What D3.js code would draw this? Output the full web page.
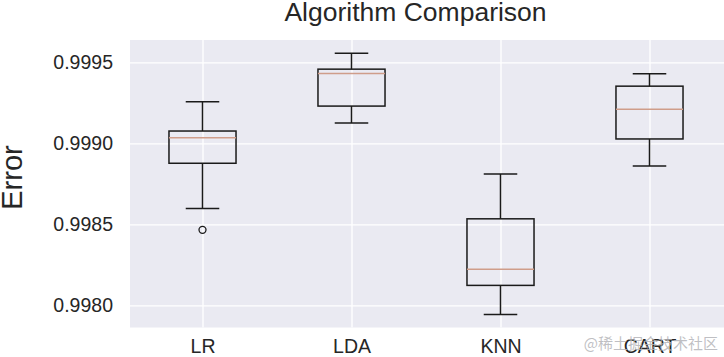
<!DOCTYPE html>
<html>
<head>
<meta charset="utf-8">
<script src="https://cdn.jsdelivr.net/npm/d3@7"></script>
<style>
  html, body { margin: 0; padding: 0; background: #ffffff; }
  svg { display: block; }
  text { font-family: "Liberation Sans", Arial, sans-serif; }
</style>
</head>
<body>
<div id="chart"></div>
<script>
// ---- data ----
const categories  = ["LR", "LDA", "KNN", "CART"];
const whiskerLow  = [0.998597, 0.999125, 0.997943, 0.998860];
const q1          = [0.998877, 0.999230, 0.998123, 0.999027];
const medians     = [0.999034, 0.999431, 0.998223, 0.999211];
const q3          = [0.999076, 0.999458, 0.998534, 0.999353];
const whiskerHigh = [0.999256, 0.999556, 0.998811, 0.999429];
const outliers    = [[0.998466], [], [], []];
const yTicks      = [0.9980, 0.9985, 0.9990, 0.9995];
const titleText   = "Algorithm Comparison";
const yLabel      = "Error";
const watermark   = "@稀土掘金技术社区";

// ---- layout ----
const W = 724, H = 357;
const plot = { left: 130, right: 724, top: 40, bottom: 327.5 };

const svg = d3.select("#chart").append("svg")
  .attr("width", W).attr("height", H);

const x = d3.scaleLinear().domain([0.5, 4.5]).range([128, 724]);
const y = d3.scaleLinear().domain([0.997863, 0.999638]).range([plot.bottom, plot.top]);

// background
svg.append("rect")
  .attr("x", plot.left).attr("y", plot.top)
  .attr("width", plot.right - plot.left).attr("height", plot.bottom - plot.top)
  .attr("fill", "#EAEAF2");

svg.append("clipPath").attr("id", "clip").append("rect")
  .attr("x", plot.left).attr("y", plot.top)
  .attr("width", plot.right - plot.left).attr("height", plot.bottom - plot.top);

// grid via axes
const gridY = svg.append("g")
  .attr("transform", `translate(${plot.left},0)`)
  .call(d3.axisLeft(y).tickValues(yTicks).tickSize(-(plot.right - plot.left)).tickFormat(""));
gridY.select(".domain").remove();
gridY.selectAll("line").attr("stroke", "#ffffff").attr("stroke-width", 1.3);

const gridX = svg.append("g")
  .attr("transform", `translate(0,${plot.bottom})`)
  .call(d3.axisBottom(x).tickValues([1, 2, 3, 4]).tickSize(-(plot.bottom - plot.top)).tickFormat(""));
gridX.select(".domain").remove();
gridX.selectAll("line").attr("stroke", "#ffffff").attr("stroke-width", 1.3);

// tick labels
const axY = svg.append("g")
  .attr("transform", `translate(${plot.left},0)`)
  .call(d3.axisLeft(y).tickValues(yTicks).tickSize(0).tickPadding(17).tickFormat(d3.format(".4f")));
axY.select(".domain").remove();
axY.selectAll("text")
  .attr("fill", "#262626")
  .style("font-size", "19.5px")
  .style("font-family", "'Liberation Sans', Arial, sans-serif");

const axX = svg.append("g")
  .attr("transform", `translate(0,${plot.bottom})`)
  .call(d3.axisBottom(x).tickValues([1, 2, 3, 4]).tickSize(0).tickPadding(12)
        .tickFormat((d, i) => categories[i]));
axX.select(".domain").remove();
axX.selectAll("text")
  .attr("fill", "#262626")
  .style("font-size", "19.5px")
  .style("font-family", "'Liberation Sans', Arial, sans-serif");

// boxes
const boxHalf = 0.225, capHalf = 0.1125;
const boxes = svg.append("g").attr("clip-path", "url(#clip)");
categories.forEach((c, i) => {
  const cx = i + 1;
  const g = boxes.append("g");
  // whiskers
  g.append("line").attr("x1", x(cx)).attr("x2", x(cx))
    .attr("y1", y(q3[i])).attr("y2", y(whiskerHigh[i]))
    .attr("stroke", "#1a1a1a").attr("stroke-width", 1.5);
  g.append("line").attr("x1", x(cx)).attr("x2", x(cx))
    .attr("y1", y(q1[i])).attr("y2", y(whiskerLow[i]))
    .attr("stroke", "#1a1a1a").attr("stroke-width", 1.5);
  // caps
  [whiskerHigh[i], whiskerLow[i]].forEach(v => {
    g.append("line").attr("x1", x(cx - capHalf)).attr("x2", x(cx + capHalf))
      .attr("y1", y(v)).attr("y2", y(v))
      .attr("stroke", "#1a1a1a").attr("stroke-width", 1.5);
  });
  // box
  g.append("rect")
    .attr("x", x(cx - boxHalf)).attr("y", y(q3[i]))
    .attr("width", x(cx + boxHalf) - x(cx - boxHalf))
    .attr("height", y(q1[i]) - y(q3[i]))
    .attr("fill", "none").attr("stroke", "#1a1a1a").attr("stroke-width", 1.5);
  // median
  g.append("line").attr("x1", x(cx - boxHalf)).attr("x2", x(cx + boxHalf))
    .attr("y1", y(medians[i])).attr("y2", y(medians[i]))
    .attr("stroke", "#cf9d8a").attr("stroke-width", 1.5);
  // outliers
  outliers[i].forEach(v => {
    g.append("circle").attr("cx", x(cx)).attr("cy", y(v)).attr("r", 3.5)
      .attr("fill", "none").attr("stroke", "#1a1a1a").attr("stroke-width", 1.3);
  });
});

// title
svg.append("text")
  .attr("x", 415.5).attr("y", 21)
  .attr("text-anchor", "middle")
  .attr("fill", "#262626")
  .style("font-size", "26.5px")
  .text(titleText);

// y label
svg.append("text")
  .attr("transform", `translate(22,${177.5}) rotate(-90)`)
  .attr("text-anchor", "middle")
  .attr("fill", "#262626")
  .style("font-size", "29px")
  .text(yLabel);

// watermark
svg.append("text")
  .attr("x", 718).attr("y", 349)
  .attr("text-anchor", "end")
  .attr("fill", "#b4b4b8")
  .attr("fill-opacity", 0.85)
  .style("font-family", "'Noto Sans CJK SC', sans-serif")
  .style("font-size", "15px")
  .text(watermark);
</script>
</body>
</html>
